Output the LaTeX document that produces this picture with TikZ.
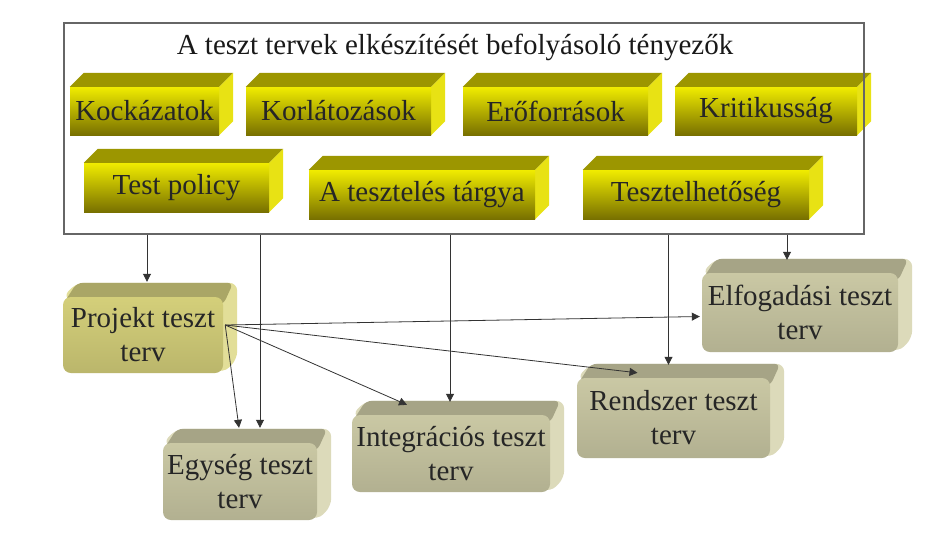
\documentclass[tikz,border=0pt]{standalone}
\usepackage{fontspec}
\setmainfont{Liberation Serif}
\usetikzlibrary{arrows.meta,backgrounds}
\definecolor{yelfront}{RGB}{240,236,0}
\definecolor{yeldark}{RGB}{120,112,0}
\definecolor{yeltop}{RGB}{156,150,0}
\definecolor{yelside}{RGB}{232,226,20}
\definecolor{prjfront}{RGB}{212,207,122}
\definecolor{prjtop}{RGB}{170,166,102}
\definecolor{prjside}{RGB}{226,222,152}
\definecolor{planfront}{RGB}{202,200,164}
\definecolor{plantop}{RGB}{166,164,134}
\definecolor{planside}{RGB}{220,218,186}

\begin{document}
\begin{tikzpicture}[x=1pt, y=-1pt,
        font=\fontsize{29}{34}\selectfont,
        factor/.style={inner sep=0pt, text=black!85, top color=yelfront, middle color=yelfront!80!yeldark, bottom color=yeldark},
        plan/.style={inner sep=0pt, align=center, rounded corners=8pt, text=black!85, top color=#1, bottom color=#1!88!black},
        arr/.style={-{Triangle[length=8pt,width=8pt]}, line width=0.8pt, draw=black!80}]
        \useasboundingbox (0,0) rectangle (933,558);
        % Frame with title
        \node[draw=black!60, line width=1.2pt, minimum width=800pt, minimum height=211pt] (factors) at (464,128.5) {};
        \node[text=black!90] (title) at (455,47) {A teszt tervek elkészítését befolyásoló tényezők};
        % Factors
        \node[factor, minimum width=149pt, minimum height=48pt] (kock) at (144.5,111) {Kockázatok};
        \node[factor, minimum width=185pt, minimum height=48pt] (korl) at (338.5,111) {Korlátozások};
        \node[factor, minimum width=185pt, minimum height=48pt] (erof) at (555.5,111) {Erőforrások};
        \node[factor, minimum width=182pt, minimum height=48pt] (krit) at (766,111) {Kritikusság};
        \node[factor, minimum width=185pt, minimum height=49pt] (policy) at (176.5,187.5) {Test policy};
        \node[factor, minimum width=226pt, minimum height=49pt] (targy) at (422,194.5) {A tesztelés tárgya};
        \node[factor, minimum width=226pt, minimum height=49pt] (tesz) at (696,194.5) {Tesztelhetőség};
        % Test plans
        \node[plan=prjfront, minimum width=160pt, minimum height=76pt] (prj) at (143,335) {Projekt teszt\\terv};
        \node[plan=planfront, minimum width=154pt, minimum height=77pt] (egy) at (240,481.5) {Egység teszt\\terv};
        \node[plan=planfront, minimum width=198pt, minimum height=77pt] (integ) at (451,453.5) {Integrációs teszt\\terv};
        \node[plan=planfront, minimum width=193pt, minimum height=80pt] (rend) at (673.5,418) {Rendszer teszt\\terv};
        \node[plan=planfront, minimum width=196pt, minimum height=79pt] (elf) at (800,312.5) {Elfogadási teszt\\terv};
        % Box faces
        \begin{scope}[on background layer]
            \fill[white] (0,0) rectangle (933,558);
            \foreach \n in {kock,korl,erof,krit,policy,targy,tesz} {
                \fill[yeltop] (\n.north west) -- ++(14,-14) -- ([shift={(14,-14)}]\n.north east) -- (\n.north east) -- cycle;
                \fill[yelside] (\n.north east) -- ([shift={(14,-14)}]\n.north east) -- ([shift={(14,-14)}]\n.south east) -- (\n.south east) -- cycle;
            }
            \foreach \n/\ct/\cs in {prj/prjtop/prjside, egy/plantop/planside, integ/plantop/planside, rend/plantop/planside, elf/plantop/planside} {
                \fill[\cs, rounded corners=8pt] (\n.north west) -- ([shift={(14,-14)}]\n.north west) -- ([shift={(14,-14)}]\n.north east) -- ([shift={(14,-14)}]\n.south east) -- (\n.south east) -- cycle;
                \fill[\ct, rounded corners=6pt] ([shift={(0,8)}]\n.north west) -- ([shift={(14,-14)}]\n.north west) -- ([shift={(10,-14)}]\n.north east) -- ([shift={(0,8)}]\n.north east) -- cycle;
            }
        \end{scope}
        % Arrows from the frame
        \coordinate (prjin) at ([shift={(4,-15)}]prj.north);
        \coordinate (egyin) at ([shift={(20,-15)}]egy.north);
        \coordinate (integin) at ([shift={(-1,-13)}]integ.north);
        \coordinate (rendin) at ([shift={(-5,-13)}]rend.north);
        \coordinate (elfin) at ([shift={(-13,-13)}]elf.north);
        \foreach \t in {prjin,egyin,integin,rendin,elfin}
            \draw[arr] (factors.south -| \t) -- (\t);
        % Arrows from the project plan
        \coordinate (fan) at ([shift={(2,-10)}]prj.east);
        \draw[arr] (fan) -- ([shift={(-1,-15)}]egy.north);
        \draw[arr] (fan) -- ([shift={(-44,-10)}]integ.north);
        \draw[arr] (fan) -- ([shift={(-36,-5)}]rend.north);
        \draw[arr] (fan) -- ([shift={(-2,4)}]elf.west);
    \end{tikzpicture}
\end{document}
